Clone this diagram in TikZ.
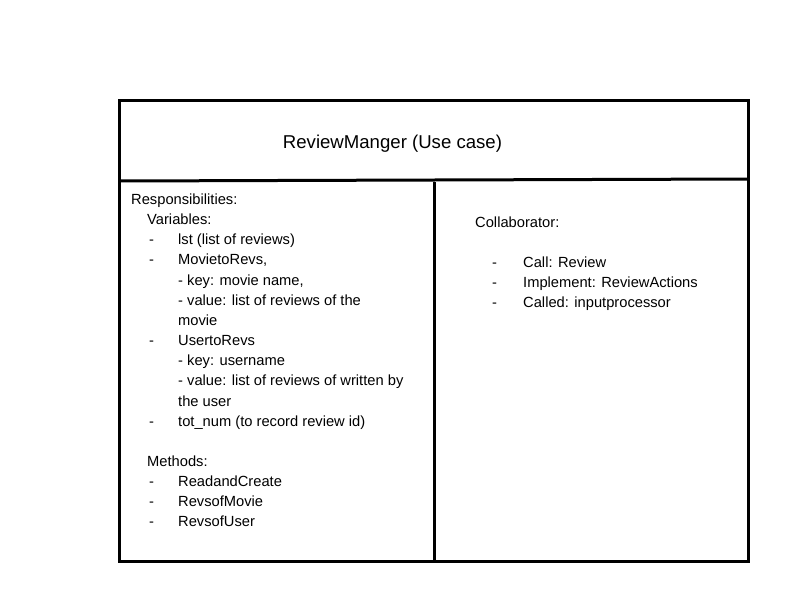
\documentclass[tikz,border=0pt]{standalone}
\usepackage{fontspec}
\setmainfont{Liberation Sans}
\usepackage{tikz}
\usetikzlibrary{positioning}

\begin{document}
\begin{tikzpicture}[x=1pt, y=-1pt,
        txt/.style={anchor=base west, inner sep=0pt, font=\fontsize{14.7}{17}\selectfont}]
        \useasboundingbox (0,0) rectangle (800,600);
        % card frame
        \draw[line width=3pt] (119,100) rectangle (748,561);
        \draw[line width=3pt] (119,181) -- (748,179);
        \draw[line width=3pt] (434,182) -- (434,561);
        \node[anchor=base, inner sep=0pt, font=\fontsize{18.6}{22}\selectfont] (title) at (392.5,148) {ReviewManger (Use case)};

        % responsibilities
        \node[txt] (resp) at (131,204.5) {Responsibilities:};
        \node[txt] (vars) at (147,224.6) {Variables:};
        \node[txt] (lst) at (178,244.8) {lst (list of reviews)};
        \node[txt] (mtr) at (178,264.9) {MovietoRevs,};
        \node[txt] (mkey) at (178,285.1) {- key: movie name,};
        \node[txt] (mval) at (178,305.3) {- value: list of reviews of the};
        \node[txt] (mval2) at (178,325.4) {movie};
        \node[txt] (utr) at (178,345.6) {UsertoRevs};
        \node[txt] (ukey) at (178,365.7) {- key: username};
        \node[txt] (uval) at (178,385.9) {- value: list of reviews of written by};
        \node[txt] (uval2) at (178,406) {the user};
        \node[txt] (tot) at (178,426.2) {tot\_num (to record review id)};
        \node[txt] (meth) at (147,466.5) {Methods:};
        \node[txt] (rac) at (178,486.6) {ReadandCreate};
        \node[txt] (rom) at (178,506.8) {RevsofMovie};
        \node[txt] (rou) at (178,526.9) {RevsofUser};
        \foreach \n in {2,3,7,11,14,15,16}
        { \node[txt] (dl\n) at (149,{204.5+20.15*\n}) {-};
        };

        % collaborators
        \node[txt] (coll) at (475,227) {Collaborator:};
        \node[txt] (call) at (523,267) {Call: Review};
        \node[txt] (impl) at (523,287) {Implement: ReviewActions};
        \node[txt] (cld) at (523,307) {Called: inputprocessor};
        \foreach \n in {0,1,2}
        { \node[txt] (dr\n) at (492,{267+20*\n}) {-};
        };

    \end{tikzpicture}
\end{document}
